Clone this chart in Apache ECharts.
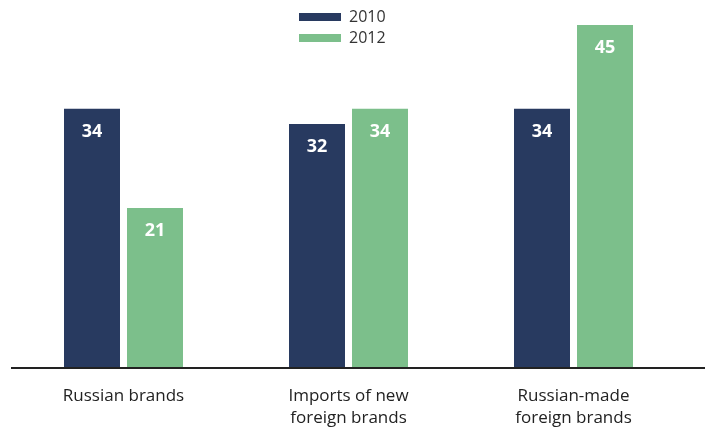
<!DOCTYPE html>
<html>
<head>
<meta charset="utf-8">
<script src="https://cdn.jsdelivr.net/npm/echarts@6/dist/echarts.min.js"></script>
<style>html,body{margin:0;padding:0;background:#fff}#c{width:705px;height:430px}</style>
</head>
<body>
<div id="c"></div>
<script>
const categories = ['Russian brands', 'Imports of new\nforeign brands', 'Russian-made\nforeign brands'];
const series2010 = [34, 32, 34];
const series2012 = [21, 34, 45];
const seriesNames = ['2010', '2012'];

const chart = echarts.init(document.getElementById('c'));
const labelStyle = {
  show: true, position: 'insideTop', distance: 14,
  color: '#fff', fontFamily: 'Open Sans', fontWeight: 'bold', fontSize: 18
};
chart.setOption({
  animation: false,
  legend: {
    orient: 'vertical', left: 294, top: 4,
    icon: 'rect', itemWidth: 42, itemHeight: 8, itemGap: 5,
    textStyle: { fontFamily: 'Open Sans', fontSize: 16, color: '#333', padding: [0, 0, 0, 3] },
    data: seriesNames
  },
  grid: { left: 11, right: 19, top: 25, bottom: 62 },
  xAxis: {
    type: 'category', data: categories,
    axisLine: { show: false }, axisTick: { show: false },
    axisLabel: { margin: 17, fontFamily: 'Open Sans', fontSize: 17, color: '#222', lineHeight: 22 }
  },
  yAxis: { type: 'value', min: 0, max: 45, show: false, splitLine: { show: false } },
  graphic: [{
    type: 'line', shape: { x1: 11, y1: 368, x2: 705, y2: 368 },
    style: { stroke: '#222', lineWidth: 2 }, z: 10
  }],
  series: [
    { name: seriesNames[0], type: 'bar', data: series2010, barWidth: 56, barGap: '12.5%',
      itemStyle: { color: '#283a60' }, label: labelStyle },
    { name: seriesNames[1], type: 'bar', data: series2012, barWidth: 56,
      itemStyle: { color: '#7cbf8b' }, label: labelStyle }
  ]
});
</script>
</body>
</html>
